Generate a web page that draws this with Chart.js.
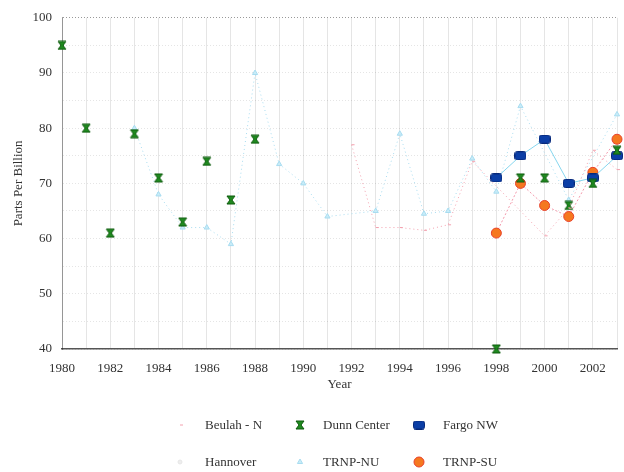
<!DOCTYPE html>
<html lang="en">
<head>
<meta charset="UTF-8">
<title>Parts Per Billion by Year</title>
<script src="https://cdn.jsdelivr.net/npm/chart.js"></script>
<style>
    body {
        margin: 0;
        background: #fff;
        font-family: "Liberation Serif", serif;
    }
    #wrap {
        position: relative;
        width: 624px;
        height: 472px;
    }
    #legend {
        position: absolute;
        left: 0;
        top: 0;
        width: 624px;
        height: 472px;
        pointer-events: none;
    }
    .item {
        position: absolute;
        font-size: 13px;
        color: #333;
        white-space: nowrap;
    }
</style>
</head>
<body>
<div id="wrap">
    <canvas id="chart" width="624" height="395"></canvas>
    <div id="legend"></div>
</div>

<script>
    // years on the x axis
    const years = [1980, 1981, 1982, 1983, 1984, 1985, 1986, 1987, 1988, 1989, 1990, 1991,
                   1992, 1993, 1994, 1995, 1996, 1997, 1998, 1999, 2000, 2001, 2002, 2003];

    const seriesNames = ['Beulah - N', 'Dunn Center', 'Fargo NW', 'Hannover', 'TRNP-NU', 'TRNP-SU'];

    // values (ppb), null where nothing is plotted
    const beulahN = [null, null, null, null, null, null, null, null, null, null, null, null,
                     77, 62, 62, 61.5, 62.5, 74, null, null, 60.5, 65.5, 76, 72.5];
    const dunnCenter = [95, 80, 61, 79, 71, 63, 74, 67, 78, null, null, null,
                        null, null, null, null, null, null, 40, 71, 71, 66, 70, 76];
    const fargoNW = [null, null, null, null, null, null, null, null, null, null, null, null,
                     null, null, null, null, null, null, 71, 75, 78, 70, 71, 75];
    const hannover = [null, null, null, null, null, null, null, null, null, null, null, null,
                      null, null, null, null, null, null, null, null, null, null, null, null];
    const trnpNU = [null, null, null, 80, 68, 62, 62, 59, 90, 73.5, 70, 64,
                    null, 65, 79, 64.5, 65, 74.5, 68.5, 84, null, 67, null, 82.5];
    const trnpSU = [null, null, null, null, null, null, null, null, null, null, null, null,
                    null, null, null, null, null, null, 61, 70, 66, 64, 72, 78];

    // hourglass marker for Dunn Center
    function hourglass(size) {
        const c = document.createElement('canvas');
        c.width = size;
        c.height = size;
        const g = c.getContext('2d');
        g.fillStyle = '#1f8a1f';
        g.strokeStyle = '#0c5a0c';
        g.lineWidth = 1;
        g.beginPath();
        g.moveTo(1, 1);
        g.lineTo(size - 1, 1);
        g.lineTo(size / 2 + 1, size / 2);
        g.lineTo(size - 1, size - 1);
        g.lineTo(1, size - 1);
        g.lineTo(size / 2 - 1, size / 2);
        g.closePath();
        g.fill();
        g.stroke();
        return c;
    }

    // flat rounded block for Fargo NW
    function block(w, h) {
        const c = document.createElement('canvas');
        c.width = w;
        c.height = h;
        const g = c.getContext('2d');
        g.fillStyle = '#0b3ea6';
        g.strokeStyle = '#06287a';
        g.beginPath();
        g.roundRect(0.5, 0.5, w - 1, h - 1, 2);
        g.fill();
        g.stroke();
        return c;
    }

    function pts(values) {
        return years.map((y, i) => ({ x: y, y: values[i] }));
    }

    const styles = [
        { data: beulahN, color: '#f3a0ae', fill: '#f7c0c8', point: 'dash', radius: 3, line: true, dash: [1, 3] },
        { data: dunnCenter, color: '#0c5a0c', fill: '#1f8a1f', point: hourglass(10), radius: 5, line: false },
        { data: fargoNW, color: '#0a3a9c', fill: '#0b40a8', point: block(12, 9), radius: 6, line: true, lineColor: '#86d6ee', dash: [] },
        { data: hannover, color: '#e6e6e6', fill: '#eeeeee', point: 'circle', radius: 2, line: false },
        { data: trnpNU, color: '#a8dcf0', fill: '#c8ecf8', point: 'triangle', radius: 3, line: true, dash: [1, 3] },
        { data: trnpSU, color: '#e8402a', fill: '#f5781f', point: 'circle', radius: 5, line: true, lineColor: '#f39aac', dash: [2, 2] }
    ];

    const datasets = styles.map((s, i) => ({
        label: seriesNames[i],
        data: pts(s.data),
        showLine: s.line,
        spanGaps: true,
        clip: false,
        borderColor: s.lineColor || s.color,
        borderWidth: 1,
        borderDash: s.dash || [],
        pointStyle: s.point,
        pointRadius: s.radius,
        pointBackgroundColor: s.fill,
        pointBorderColor: s.color,
        pointBorderWidth: 1
    }));

    const gridDots = 'rgba(0,0,0,0.1)';

    new Chart(document.getElementById('chart'), {
        type: 'scatter',
        data: { datasets: datasets },
        options: {
            responsive: false,
            animation: false,
            layout: { padding: { top: 16, right: 0, left: 0, bottom: 0 } },
            plugins: {
                legend: { display: false },
                tooltip: { enabled: false }
            },
            scales: {
                x: {
                    type: 'linear',
                    min: 1980,
                    max: 2003,
                    afterFit: (scale) => { scale.height = 46; },
                    border: { color: '#555', width: 1.5 },
                    grid: {
                        color: gridDots,
                        borderDash: [1, 4],
                        drawTicks: true,
                        tickLength: 12,
                        tickColor: 'rgba(0,0,0,0)'
                    },
                    ticks: {
                        stepSize: 1,
                        includeBounds: false,
                        padding: 0,
                        maxRotation: 0,
                        autoSkip: false,
                        color: '#333',
                        font: { family: 'Liberation Serif', size: 13 },
                        callback: (v) => (v % 2 === 0 ? String(v) : '')
                    },
                    title: {
                        display: true,
                        text: 'Year',
                        color: '#333',
                        padding: { top: 0, bottom: 3 },
                        font: { family: 'Liberation Serif', size: 13 }
                    }
                },
                y: {
                    min: 40,
                    max: 100,
                    afterFit: (scale) => { scale.width = 62; },
                    border: { color: 'rgba(0,0,0,0.35)', dash: [1, 2] },
                    grid: {
                        color: (ctx) => (ctx.tick && ctx.tick.value === 100 ? 'rgba(0,0,0,0.4)' : gridDots),
                        borderDash: [1, 4],
                        drawTicks: false
                    },
                    ticks: {
                        stepSize: 5,
                        padding: 10,
                        color: '#333',
                        font: { family: 'Liberation Serif', size: 13 },
                        callback: (v) => (v % 10 === 0 ? String(v) : '')
                    },
                    title: {
                        display: true,
                        text: 'Parts Per Billion',
                        color: '#333',
                        padding: { top: 11, bottom: 0 },
                        font: { family: 'Liberation Serif', size: 13 }
                    }
                }
            }
        }
    });

    // legend below the chart, two rows of three
    const legendCols = [
        { marker: 180, text: 205 },
        { marker: 300, text: 323 },
        { marker: 419, text: 443 }
    ];
    const legendRows = [425, 462];
    const legend = document.getElementById('legend');

    styles.forEach((s, i) => {
        const col = legendCols[i % 3];
        const row = legendRows[Math.floor(i / 3)];
        const item = document.createElement('div');
        item.className = 'item';
        item.style.left = col.text + 'px';
        item.style.top = (row - 8) + 'px';
        item.textContent = seriesNames[i];
        legend.appendChild(item);

        const m = document.createElement('canvas');
        m.width = 16;
        m.height = 16;
        m.style.left = (col.marker - 8) + 'px';
        m.style.top = (row - 8) + 'px';
        m.style.position = 'absolute';
        const g = m.getContext('2d');
        g.fillStyle = s.fill;
        g.strokeStyle = s.color;
        g.lineWidth = 1;
        Chart.helpers.drawPoint(g, {
            pointStyle: s.point,
            radius: s.radius,
            borderWidth: 1,
            rotation: 0
        }, 8, 8);
        legend.appendChild(m);
    });
</script>
</body>
</html>
